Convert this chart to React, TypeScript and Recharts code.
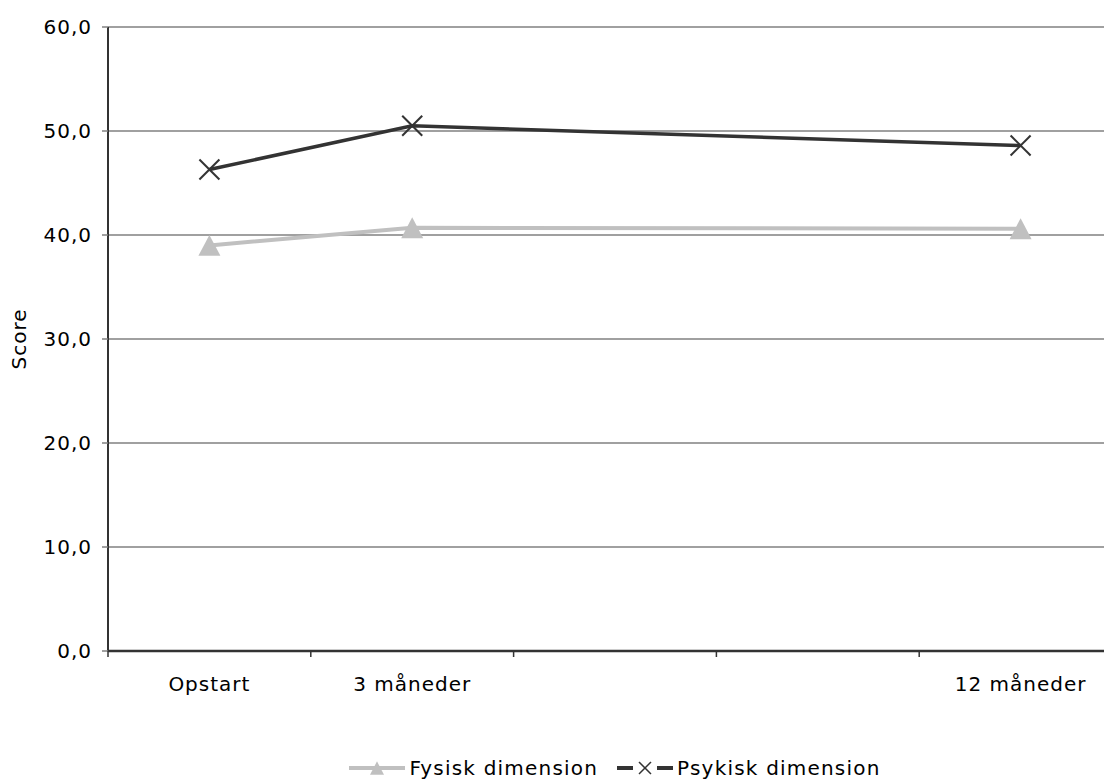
import { LineChart, Line, XAxis, YAxis, CartesianGrid, Legend } from 'recharts';

const categories = ['Opstart', '3 måneder', '', '', '12 måneder'];
const fysisk = [39.0, 40.7, null, null, 40.6];
const psykisk = [46.3, 50.5, null, null, 48.6];
const yTicks = [0, 10, 20, 30, 40, 50, 60];

const data = categories.map((name, i) => ({
  name: String(i),
  label: name,
  fysisk: fysisk[i],
  psykisk: psykisk[i],
}));

const FONT = '"DejaVu Sans", Verdana, sans-serif';
const CHART_W = 1116;
const CHART_H = 773;
const MARGIN = { top: 19, right: 2, left: 0, bottom: 0 };
const Y_W = 100;
const BAND = (CHART_W - MARGIN.left - MARGIN.right - Y_W) / categories.length;

const LIGHT = '#c0c0c0';
const DARK = '#333333';

function triangle(cx: number, cy: number, s: number, key?: string) {
  const h = s * 0.95;
  return (
    <polygon
      key={key}
      points={`${cx},${cy - h / 2} ${cx - s / 2},${cy + h / 2} ${cx + s / 2},${cy + h / 2}`}
      fill={LIGHT}
    />
  );
}

function cross(cx: number, cy: number, s: number, sw: number, key?: string) {
  const r = s / 2;
  return (
    <g key={key} stroke={DARK} strokeWidth={sw}>
      <line x1={cx - r} y1={cy - r} x2={cx + r} y2={cy + r} />
      <line x1={cx - r} y1={cy + r} x2={cx + r} y2={cy - r} />
    </g>
  );
}

const fysiskDot = (p: any) =>
  p.cx == null || p.cy == null || p.value == null ? <g key={p.key} /> : triangle(p.cx, p.cy, 22, p.key);
const psykiskDot = (p: any) =>
  p.cx == null || p.cy == null || p.value == null ? <g key={p.key} /> : cross(p.cx, p.cy, 20, 2, p.key);

function XTick({ x, y, payload }: any) {
  const axisY = y - 8;
  const i = Number(payload.value);
  return (
    <g>
      <line x1={x - BAND / 2} y1={axisY} x2={x - BAND / 2} y2={axisY + 6} stroke={DARK} strokeWidth={1.5} />
      <text
        x={x}
        y={axisY + 33}
        textAnchor="middle"
        dominantBaseline="central"
        fontFamily={FONT}
        fontSize={20}
        letterSpacing={1}
        fill="#000"
      >
        {categories[i]}
      </text>
    </g>
  );
}

function LegendContent() {
  const text = { fontFamily: FONT, fontSize: 20, letterSpacing: 1.2, color: '#000' };
  return (
    <div
      style={{
        height: 70,
        display: 'flex',
        alignItems: 'flex-end',
        justifyContent: 'center',
        paddingLeft: 100,
        boxSizing: 'border-box',
      }}
    >
      <div style={{ display: 'flex', alignItems: 'center', height: 26 }}>
        <svg width={56} height={20} style={{ marginRight: 4 }}>
          <line x1={0} y1={10} x2={56} y2={10} stroke={LIGHT} strokeWidth={4} />
          {triangle(28, 10, 14)}
        </svg>
        <span style={text}>Fysisk dimension</span>
        <svg width={56} height={20} style={{ marginLeft: 19, marginRight: 4 }}>
          <line x1={0} y1={10} x2={16} y2={10} stroke={DARK} strokeWidth={4} />
          <line x1={40} y1={10} x2={56} y2={10} stroke={DARK} strokeWidth={4} />
          {cross(28, 10, 12, 1.5)}
        </svg>
        <span style={text}>Psykisk dimension</span>
      </div>
    </div>
  );
}

export default function App() {
  return (
    <div style={{ width: 1104, height: CHART_H, overflow: 'hidden', background: '#fff' }}>
      <LineChart width={CHART_W} height={CHART_H} data={data} margin={MARGIN}>
        <CartesianGrid vertical={false} stroke="#808080" strokeWidth={1.5} />
        <XAxis
          dataKey="name"
          scale="band"
          height={60}
          interval={0}
          tickSize={6}
          tickMargin={2}
          tickLine={false}
          axisLine={{ stroke: DARK, strokeWidth: 2.5 }}
          tick={<XTick />}
        />
        <YAxis
          domain={[0, 60]}
          ticks={yTicks}
          width={Y_W}
          tickSize={6}
          tickMargin={10}
          interval={0}
          tickFormatter={(v: number) => v.toFixed(1).replace('.', ',')}
          tick={{ fontFamily: FONT, fontSize: 20, fill: '#000', letterSpacing: 1 }}
          tickLine={{ stroke: '#808080', strokeWidth: 1.5 }}
          axisLine={{ stroke: DARK, strokeWidth: 2 }}
          label={{
            content: ({ viewBox }: any) => (
              <text
                x={viewBox.x + 11}
                y={viewBox.y + viewBox.height / 2}
                transform={`rotate(-90 ${viewBox.x + 11} ${viewBox.y + viewBox.height / 2})`}
                textAnchor="middle"
                dominantBaseline="central"
                fontFamily={FONT}
                fontSize={20}
                letterSpacing={1}
                fill="#000"
              >
                Score
              </text>
            ),
          }}
        />
        <Legend verticalAlign="bottom" content={<LegendContent />} />
        <Line
          dataKey="fysisk"
          stroke={LIGHT}
          strokeWidth={4}
          connectNulls
          isAnimationActive={false}
          dot={fysiskDot}
          activeDot={false}
        />
        <Line
          dataKey="psykisk"
          stroke={DARK}
          strokeWidth={3.5}
          connectNulls
          isAnimationActive={false}
          dot={psykiskDot}
          activeDot={false}
        />
      </LineChart>
    </div>
  );
}
